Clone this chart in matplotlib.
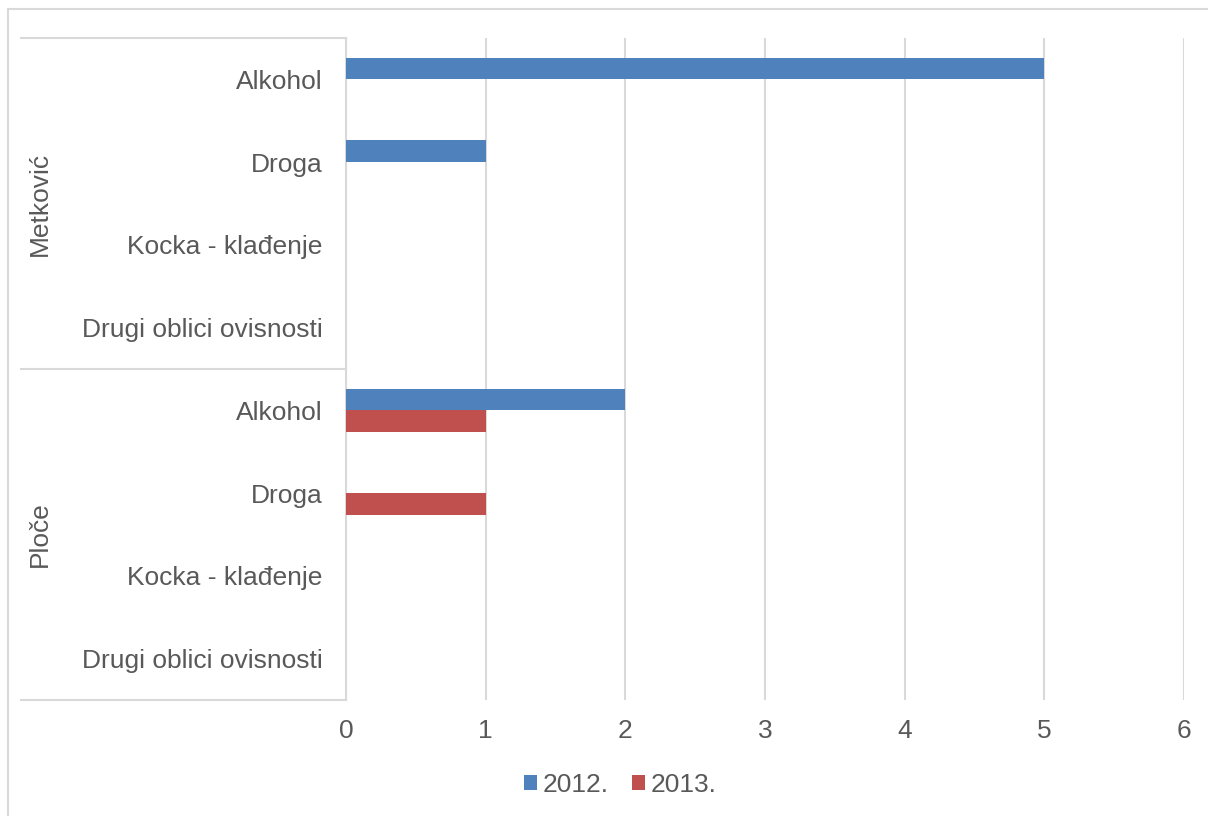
import matplotlib
matplotlib.use("Agg")
import matplotlib.pyplot as plt
from matplotlib.patches import Rectangle, Patch
from matplotlib.lines import Line2D
import numpy as np

groups = ["Metković", "Ploče"]
categories = ["Alkohol", "Droga", "Kocka - klađenje", "Drugi oblici ovisnosti"]
series_names = ["2012.", "2013."]
values_2012 = [5, 1, 0, 0, 2, 0, 0, 0]
values_2013 = [0, 0, 0, 0, 1, 1, 0, 0]
x_ticks = [0, 1, 2, 3, 4, 5, 6]

blue = "#4F81BD"
red = "#C0504D"
grid_c = "#D9D9D9"
text_c = "#595959"

plt.rcParams['font.family'] = ['Liberation Sans', 'DejaVu Sans']

W, H = 1208, 816
fig = plt.figure(figsize=(W / 100, H / 100), dpi=100)
ax = fig.add_axes([346 / W, 1 - 700 / H, (1184 - 346) / W, (700 - 38) / H])

labels = categories * len(groups)
n = len(labels)
pos = np.arange(n)
h = 0.262
ax.barh(pos - h / 2, values_2012, height=h, color=blue, zorder=3)
ax.barh(pos + h / 2, values_2013, height=h, color=red, zorder=3)

fs = 19
ax.set_ylim(n - 0.5, -0.5)
ax.set_xlim(0, 6)
ax.set_xticks(x_ticks)
ax.set_xticklabels([str(t) for t in x_ticks])
ax.set_yticks(pos)
ax.set_yticklabels(labels)
ax.tick_params(axis='both', length=0, labelsize=fs, labelcolor=text_c)
ax.tick_params(axis='y', pad=17)
ax.tick_params(axis='x', pad=14)
ax.grid(axis='x', color=grid_c, linewidth=1.5, zorder=0)
for s in ["top", "right", "bottom"]:
    ax.spines[s].set_visible(False)
ax.spines["left"].set_color(grid_c)
ax.spines["left"].set_linewidth(1.5)

# group separators
x_left = (21 - 346) / (1184 - 346)
for yf in [0.0, 0.5, 1.0]:
    ax.add_line(Line2D([x_left, 0], [yf, yf], transform=ax.transAxes,
                       color=grid_c, linewidth=1.5, clip_on=False))
xg = (40 - 346) / (1184 - 346)
for gi, g in enumerate(groups):
    yc = 1 - (gi + 0.5) / len(groups)
    ax.text(xg, yc, g, transform=ax.transAxes, rotation=90, ha='center',
            va='center', fontsize=fs, color=text_c)

# figure border
fig.patches.append(Rectangle((8 / W, -0.1), 1.2, 1 - 9 / H + 0.1,
                             transform=fig.transFigure, fill=False,
                             edgecolor=grid_c, linewidth=1.5))

handles = [Patch(facecolor=blue, edgecolor='none'), Patch(facecolor=red, edgecolor='none')]
leg = fig.legend(handles, series_names, loc='center', bbox_to_anchor=(620 / W, 1 - 785 / H),
                 ncol=2, frameon=False, fontsize=fs, handlelength=0.5, handleheight=0.5,
                 handletextpad=0.2, columnspacing=0.9)
for t in leg.get_texts():
    t.set_color(text_c)

fig.savefig("out.png", dpi=100)
